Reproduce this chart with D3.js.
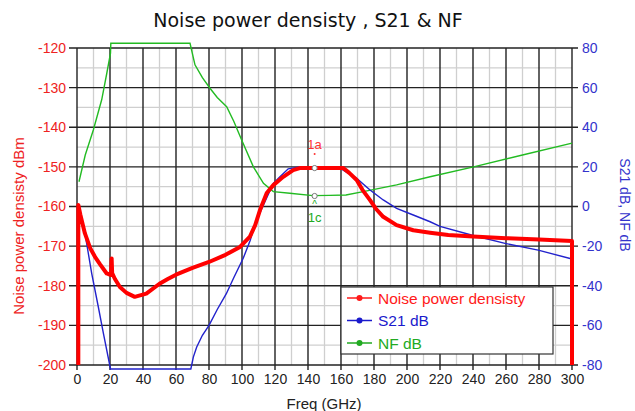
<!DOCTYPE html>
<html lang="en">
<head>
  <meta charset="UTF-8">
  <title>Noise power densisty , S21 &amp; NF</title>
  <script src="https://d3js.org/d3.v7.min.js"></script>
  <style>
    body { margin: 0; background: #fff; }
    text { font-family: "Liberation Sans", Arial, sans-serif; }
  </style>
</head>
<body>
<div id="chart"></div>
<script>
  // ---- data ----
  // Noise power density, dBm (left axis)
  var npdFreq = [0.8, 0.8, 2, 4.8, 8, 10.9, 14, 18, 20.6, 21, 21.3, 23, 26, 30, 35, 42, 50, 55, 60, 70, 80, 90, 98.8,
    104.8, 108, 110.9, 115, 119, 125, 131, 135, 161.4, 165, 169.5, 173, 177.6, 181, 185.6, 193.7, 203.8, 214, 225,
    240, 260, 280, 300, 300];
  var npdVal = [-200, -159.6, -162, -166.8, -170.5, -172.7, -174.6, -176.9, -177.3, -173.1, -176.8, -178.3, -180.3,
    -181.8, -182.8, -182, -179.5, -178.3, -177.2, -175.5, -174, -172.2, -170.2, -167.6, -164.7, -160.9, -156.6,
    -154.6, -152.5, -150.8, -150.3, -150.3, -151.5, -153.3, -155.8, -158.4, -160.5, -162.6, -164.7, -166, -166.6,
    -167.2, -167.6, -168, -168.3, -168.7, -200];

  // S21, dB (right axis)
  var s21Freq = [0.8, 4.8, 8.9, 12.9, 16, 20.3, 69, 70.5, 72.5, 76, 80, 85, 90.5, 95, 100.8, 105, 108, 113, 119, 123,
    128, 135, 158, 161.4, 165, 169.5, 177.6, 185.6, 193.7, 203.8, 214, 220, 239, 259.4, 279.5, 300];
  var s21Val = [0.8, -13.5, -33.7, -50.6, -64, -82, -82, -76, -71, -65, -60, -52, -44, -36, -26, -17, -8.5, 0.8, 11.7,
    15, 19, 20, 20, 18.4, 16.5, 14.2, 8.3, 3.3, -0.9, -4.3, -7.7, -10, -14.4, -18.6, -22, -26.5];

  // NF, dB (right axis)
  var nfFreq = [1.2, 5, 9.9, 15, 18, 20.3, 20.5, 68.5, 71.5, 76, 80.6, 85, 90.7, 95, 99.8, 106.9, 113, 119, 129, 143,
    153, 163, 173.5, 193.7, 214, 241, 270, 300];
  var nfVal = [12.5, 26, 38.6, 54, 67, 77.4, 82.4, 82.4, 71.5, 65, 59.7, 55, 50.4, 43, 33.6, 20, 11.7, 7.5, 6.7, 5.5,
    5.6, 5.8, 7.5, 10.9, 15, 20.1, 26, 32];

  var xTicks = d3.range(0, 301, 20);
  var leftTicks = d3.range(-200, -119, 10);
  var rightTicks = d3.range(-80, 81, 20);

  var legendNames = ["Noise power densisty", "S21 dB", "NF dB"];
  var legendColors = ["#ff1a1a", "#1a1acc", "#22aa22"];

  // marker: 1a on noise density, 1c on NF
  var markerFreq = 144;
  var marker1a = -150.3;
  var marker1c = 5.3;

  // ---- layout ----
  var W = 635, H = 411;
  var plot = { left: 77, right: 572, top: 48, bottom: 365 };

  var svg = d3.select("#chart").append("svg")
    .attr("width", W)
    .attr("height", H);

  var x = d3.scaleLinear().domain([0, 300]).range([plot.left, plot.right]);
  var yL = d3.scaleLinear().domain([-200, -120]).range([plot.bottom, plot.top]);
  var yR = d3.scaleLinear().domain([-80, 80]).range([plot.bottom, plot.top]);

  // minor grid
  var grid = svg.append("g");
  grid.selectAll(".vminor")
    .data(d3.range(10, 300, 20))
    .enter().append("line")
    .attr("x1", d => x(d)).attr("x2", d => x(d))
    .attr("y1", plot.top).attr("y2", plot.bottom)
    .attr("stroke", "#cfcfcf").attr("stroke-width", 1.3);
  grid.selectAll(".hminor")
    .data(d3.range(-195, -120, 10))
    .enter().append("line")
    .attr("x1", plot.left).attr("x2", plot.right)
    .attr("y1", d => yL(d)).attr("y2", d => yL(d))
    .attr("stroke", "#cfcfcf").attr("stroke-width", 1.3);

  // major grid, with the little outward ticks
  grid.selectAll(".vmajor")
    .data(xTicks)
    .enter().append("line")
    .attr("x1", d => x(d)).attr("x2", d => x(d))
    .attr("y1", plot.top).attr("y2", plot.bottom + 5)
    .attr("stroke", "#222").attr("stroke-width", 1.4);
  grid.selectAll(".hmajor")
    .data(leftTicks)
    .enter().append("line")
    .attr("x1", plot.left - 8).attr("x2", plot.right + 6)
    .attr("y1", d => yL(d)).attr("y2", d => yL(d))
    .attr("stroke", "#222").attr("stroke-width", 1.4);

  // axes (labels only, the grid does the lines); plain hyphen for minus
  var fmt = d => String(d);

  var xAxis = svg.append("g")
    .attr("transform", "translate(0," + plot.bottom + ")")
    .call(d3.axisBottom(x).tickValues(xTicks).tickFormat(fmt).tickSize(0).tickPadding(9));
  xAxis.select(".domain").remove();
  xAxis.selectAll("text").attr("font-size", 14).attr("fill", "#222")
    .attr("font-family", "Liberation Sans, Arial, sans-serif");

  var lAxis = svg.append("g")
    .attr("transform", "translate(" + plot.left + ",0)")
    .call(d3.axisLeft(yL).tickValues(leftTicks).tickFormat(fmt).tickSize(0).tickPadding(11));
  lAxis.select(".domain").remove();
  lAxis.selectAll("text").attr("font-size", 14).attr("fill", "#ee2222")
    .attr("font-family", "Liberation Sans, Arial, sans-serif");

  var rAxis = svg.append("g")
    .attr("transform", "translate(" + plot.right + ",0)")
    .call(d3.axisRight(yR).tickValues(rightTicks).tickFormat(fmt).tickSize(0).tickPadding(10));
  rAxis.select(".domain").remove();
  rAxis.selectAll("text").attr("font-size", 14).attr("fill", "#3333cc")
    .attr("font-family", "Liberation Sans, Arial, sans-serif");

  // series
  var lineL = d3.line().x(d => x(d[0])).y(d => yL(d[1]));
  var lineR = d3.line().x(d => x(d[0])).y(d => yR(d[1]));

  svg.append("path")
    .datum(d3.zip(nfFreq, nfVal))
    .attr("d", lineR)
    .attr("fill", "none").attr("stroke", "#22bb22").attr("stroke-width", 1.4);

  svg.append("path")
    .datum(d3.zip(s21Freq, s21Val))
    .attr("d", lineR)
    .attr("fill", "none").attr("stroke", "#2222cc").attr("stroke-width", 1.4);

  svg.append("path")
    .datum(d3.zip(npdFreq, npdVal))
    .attr("d", lineL)
    .attr("fill", "none").attr("stroke", "#ff0000").attr("stroke-width", 4)
    .attr("stroke-linejoin", "round");

  // markers
  var mx = x(markerFreq);
  svg.append("circle").attr("cx", mx).attr("cy", yL(marker1a)).attr("r", 2.6)
    .attr("fill", "#fff").attr("stroke", "#777").attr("stroke-width", 1);
  svg.append("circle").attr("cx", mx).attr("cy", yL(marker1a) - 14).attr("r", 1)
    .attr("fill", "#ff3333");
  svg.append("text").attr("x", mx).attr("y", yL(marker1a) - 19)
    .attr("text-anchor", "middle").attr("font-size", 13).attr("fill", "#ff3333").text("1a");

  svg.append("circle").attr("cx", mx).attr("cy", yR(marker1c)).attr("r", 2.6)
    .attr("fill", "#fff").attr("stroke", "#777").attr("stroke-width", 1);
  svg.append("text").attr("x", mx).attr("y", yR(marker1c) + 12)
    .attr("text-anchor", "middle").attr("font-size", 10).attr("fill", "#22aa22").text("^");
  svg.append("text").attr("x", mx).attr("y", yR(marker1c) + 26)
    .attr("text-anchor", "middle").attr("font-size", 13).attr("fill", "#22aa22").text("1c");

  // legend
  var lg = svg.append("g").attr("transform", "translate(341,287)");
  lg.append("rect").attr("width", 212).attr("height", 67)
    .attr("fill", "#fff").attr("stroke", "#333").attr("stroke-width", 1.2);
  legendNames.forEach(function(name, i) {
    var yy = 11 + i * 22.5;
    lg.append("line").attr("x1", 6).attr("x2", 31).attr("y1", yy).attr("y2", yy)
      .attr("stroke", legendColors[i]).attr("stroke-width", 1.5);
    lg.append("circle").attr("cx", 18.5).attr("cy", yy).attr("r", 3).attr("fill", legendColors[i]);
    lg.append("text").attr("x", 37).attr("y", yy + 5.5)
      .attr("font-size", 15.5).attr("fill", legendColors[i]).text(name);
  });

  // titles
  svg.append("text").attr("x", 308).attr("y", 27)
    .attr("text-anchor", "middle").attr("font-size", 19)
    .style("font-family", "DejaVu Sans, Verdana, sans-serif")
    .attr("fill", "#111").text("Noise power densisty , S21 & NF");

  svg.append("text").attr("x", 324).attr("y", 409)
    .attr("text-anchor", "middle").attr("font-size", 15).attr("fill", "#222").text("Freq (GHz)");

  svg.append("text")
    .attr("transform", "translate(24,226) rotate(-90)")
    .attr("text-anchor", "middle").attr("font-size", 15).attr("fill", "#ee2222")
    .text("Noise power densisty dBm");

  svg.append("text")
    .attr("transform", "translate(620,205) rotate(90)")
    .attr("text-anchor", "middle").attr("font-size", 14).attr("fill", "#3333cc")
    .text("S21 dB, NF dB");
</script>
</body>
</html>
